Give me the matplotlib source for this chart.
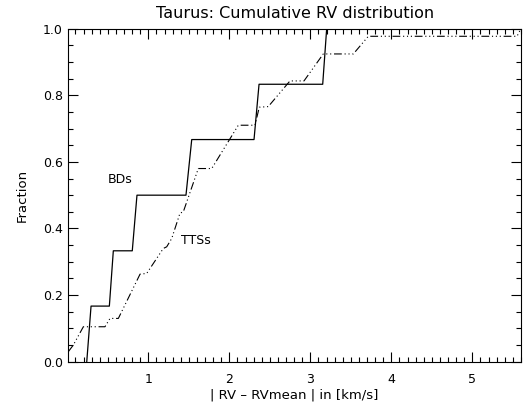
import matplotlib
matplotlib.use('Agg')
import matplotlib.pyplot as plt
from matplotlib.ticker import MultipleLocator

# cumulative curves (|RV - RVmean| in km/s, fraction)
bd_x = [0.24, 0.293, 0.519, 0.568, 0.802, 0.86, 1.465, 1.536, 2.305, 2.367, 3.153, 3.202, 5.6]
bd_y = [0.0, 0.167, 0.167, 0.333, 0.333, 0.5, 0.5, 0.667, 0.667, 0.833, 0.833, 1.0, 1.0]

tts_x = [0.012, 0.074, 0.198, 0.465, 0.527, 0.630, 0.898, 0.98, 1.185, 1.227, 1.289, 1.391,
         1.432, 1.617, 1.783, 2.111, 2.317, 2.370, 2.481, 2.749, 2.922, 3.160, 3.531, 3.716,
         5.552, 5.60]
tts_y = [0.03, 0.05, 0.105, 0.105, 0.13, 0.13, 0.263, 0.265, 0.34, 0.345, 0.37, 0.446,
         0.45, 0.58, 0.58, 0.71, 0.71, 0.764, 0.766, 0.843, 0.843, 0.924, 0.924, 0.977,
         0.977, 1.0]

x_ticks = [1, 2, 3, 4, 5]
y_ticks = [0.0, 0.2, 0.4, 0.6, 0.8, 1.0]

plt.rcParams['font.family'] = ['DejaVu Sans']
fig = plt.figure(figsize=(5.31, 4.09), dpi=100)
ax = fig.add_axes([0.1286, 0.1156, 0.8524, 0.8144])

ax.plot(bd_x, bd_y, color='black', lw=0.9)
ax.plot(tts_x, tts_y, color='black', lw=0.8,
        linestyle=(0, (7, 2.5, 1, 2.5, 1, 2.5, 1, 2.5)))

ax.text(0.50, 0.546, 'BDs', fontsize=9, va='center', ha='left')
ax.text(1.40, 0.364, 'TTSs', fontsize=9, va='center', ha='left')

ax.set_xlim(0.012, 5.6)
ax.set_ylim(0.0, 1.0)
ax.set_xticks(x_ticks)
ax.set_xticklabels([str(v) for v in x_ticks])
ax.set_yticks(y_ticks)
ax.set_yticklabels([f'{v:.1f}' for v in y_ticks])
ax.xaxis.set_minor_locator(MultipleLocator(0.1))
ax.yaxis.set_minor_locator(MultipleLocator(0.05))
ax.tick_params(which='both', direction='in', top=True, right=True, width=0.8,
               labelsize=9)
ax.tick_params(which='major', length=7)
ax.tick_params(which='minor', length=3.5)
ax.tick_params(axis='x', pad=8)
ax.tick_params(axis='y', pad=4)
for s in ax.spines.values():
    s.set_linewidth(0.8)

ax.set_xlabel('| RV \u2013 RVmean | in [km/s]', fontsize=9.5, labelpad=2)
ax.set_ylabel('Fraction', fontsize=9.5, labelpad=10)
ax.set_title('Taurus: Cumulative RV distribution', fontsize=11.5, pad=8)

fig.savefig('out.png', dpi=100)
